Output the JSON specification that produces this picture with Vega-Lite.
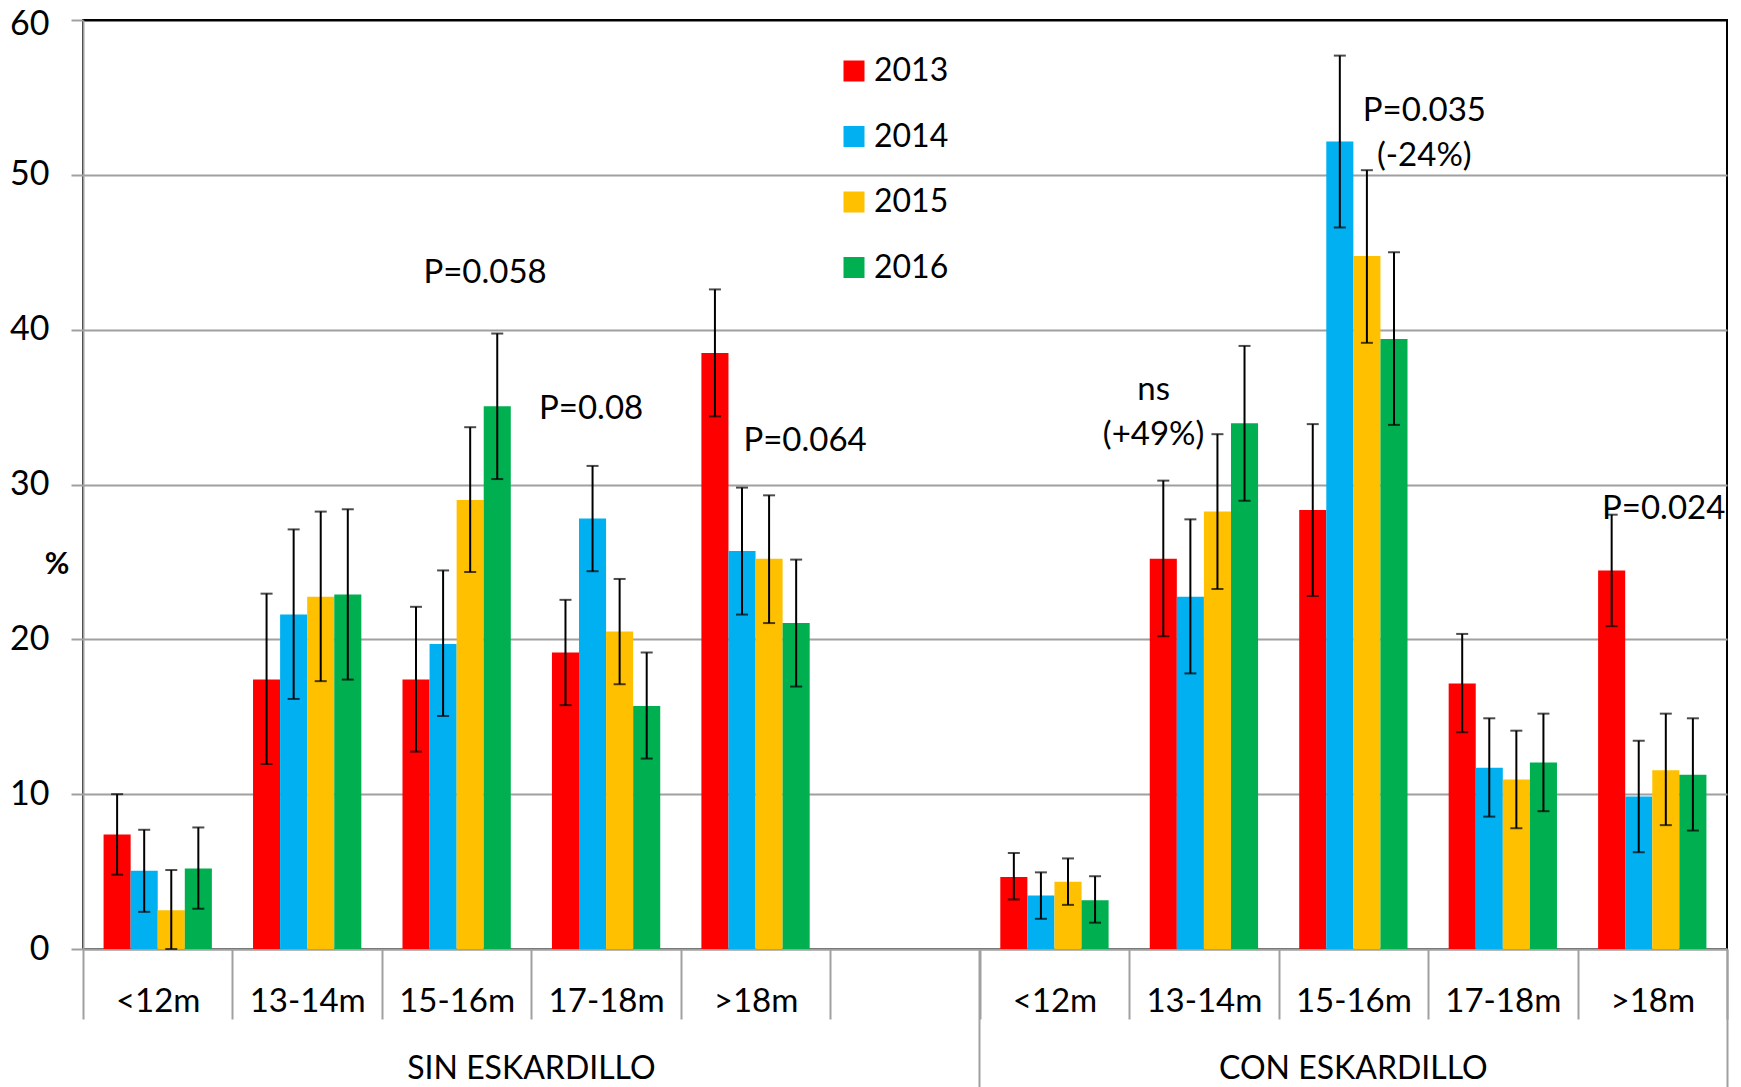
{
  "$schema": "https://vega.github.io/schema/vega-lite/v6.json",
  "autosize": "none",
  "padding": {"left": 83, "top": 20, "right": 14, "bottom": 138},
  "width": 1644,
  "height": 929,
  "background": "#ffffff",
  "config": {
    "font": "Lato",
    "view": {"stroke": "#000000", "strokeWidth": 2}
  },
  "datasets": {
    "bars": [
      {"cat": "SIN|<12m", "year": "2013", "value": 7.4, "lo": 4.8, "hi": 10.0},
      {"cat": "SIN|<12m", "year": "2014", "value": 5.05, "lo": 2.4, "hi": 7.7},
      {"cat": "SIN|<12m", "year": "2015", "value": 2.5, "lo": 0, "hi": 5.1},
      {"cat": "SIN|<12m", "year": "2016", "value": 5.2, "lo": 2.6, "hi": 7.85},
      {"cat": "SIN|13-14m", "year": "2013", "value": 17.4, "lo": 11.95, "hi": 22.95},
      {"cat": "SIN|13-14m", "year": "2014", "value": 21.6, "lo": 16.15, "hi": 27.1},
      {"cat": "SIN|13-14m", "year": "2015", "value": 22.75, "lo": 17.3, "hi": 28.25},
      {"cat": "SIN|13-14m", "year": "2016", "value": 22.9, "lo": 17.4, "hi": 28.4},
      {"cat": "SIN|15-16m", "year": "2013", "value": 17.4, "lo": 12.75, "hi": 22.1},
      {"cat": "SIN|15-16m", "year": "2014", "value": 19.7, "lo": 15.05, "hi": 24.45},
      {"cat": "SIN|15-16m", "year": "2015", "value": 29.0, "lo": 24.35, "hi": 33.7},
      {"cat": "SIN|15-16m", "year": "2016", "value": 35.05, "lo": 30.35, "hi": 39.75},
      {"cat": "SIN|17-18m", "year": "2013", "value": 19.15, "lo": 15.75, "hi": 22.55},
      {"cat": "SIN|17-18m", "year": "2014", "value": 27.8, "lo": 24.4, "hi": 31.2},
      {"cat": "SIN|17-18m", "year": "2015", "value": 20.5, "lo": 17.1, "hi": 23.9},
      {"cat": "SIN|17-18m", "year": "2016", "value": 15.7, "lo": 12.3, "hi": 19.15},
      {"cat": "SIN|>18m", "year": "2013", "value": 38.5, "lo": 34.4, "hi": 42.6},
      {"cat": "SIN|>18m", "year": "2014", "value": 25.7, "lo": 21.6, "hi": 29.8},
      {"cat": "SIN|>18m", "year": "2015", "value": 25.2, "lo": 21.05, "hi": 29.3},
      {"cat": "SIN|>18m", "year": "2016", "value": 21.05, "lo": 16.95, "hi": 25.15},
      {"cat": "CON|<12m", "year": "2013", "value": 4.65, "lo": 3.2, "hi": 6.2},
      {"cat": "CON|<12m", "year": "2014", "value": 3.45, "lo": 1.95, "hi": 4.95},
      {"cat": "CON|<12m", "year": "2015", "value": 4.35, "lo": 2.85, "hi": 5.85},
      {"cat": "CON|<12m", "year": "2016", "value": 3.15, "lo": 1.7, "hi": 4.7},
      {"cat": "CON|13-14m", "year": "2013", "value": 25.2, "lo": 20.2, "hi": 30.25},
      {"cat": "CON|13-14m", "year": "2014", "value": 22.75, "lo": 17.8, "hi": 27.75},
      {"cat": "CON|13-14m", "year": "2015", "value": 28.25, "lo": 23.25, "hi": 33.25},
      {"cat": "CON|13-14m", "year": "2016", "value": 33.95, "lo": 28.95, "hi": 38.95},
      {"cat": "CON|15-16m", "year": "2013", "value": 28.35, "lo": 22.8, "hi": 33.9},
      {"cat": "CON|15-16m", "year": "2014", "value": 52.15, "lo": 46.6, "hi": 57.7},
      {"cat": "CON|15-16m", "year": "2015", "value": 44.75, "lo": 39.15, "hi": 50.3},
      {"cat": "CON|15-16m", "year": "2016", "value": 39.4, "lo": 33.85, "hi": 45.0},
      {"cat": "CON|17-18m", "year": "2013", "value": 17.15, "lo": 14.0, "hi": 20.35},
      {"cat": "CON|17-18m", "year": "2014", "value": 11.7, "lo": 8.55, "hi": 14.9},
      {"cat": "CON|17-18m", "year": "2015", "value": 10.95, "lo": 7.8, "hi": 14.1},
      {"cat": "CON|17-18m", "year": "2016", "value": 12.05, "lo": 8.9, "hi": 15.2},
      {"cat": "CON|>18m", "year": "2013", "value": 24.45, "lo": 20.85, "hi": 28.05},
      {"cat": "CON|>18m", "year": "2014", "value": 9.85, "lo": 6.25, "hi": 13.45},
      {"cat": "CON|>18m", "year": "2015", "value": 11.55, "lo": 8.0, "hi": 15.2},
      {"cat": "CON|>18m", "year": "2016", "value": 11.25, "lo": 7.65, "hi": 14.9}
    ],
    "notes": [
      {"cat": "SIN|15-16m", "y": 43.0, "label": "P=0.058"},
      {"cat": "SIN|17-18m", "y": 34.2, "label": "P=0.08"},
      {"cat": "SIN|>18m", "y": 32.15, "label": "P=0.064"},
      {"cat": "CON|13-14m", "y": 35.45, "label": ["ns", "(+49%)"]},
      {"cat": "CON|15-16m", "y": 53.5, "label": ["P=0.035", "(-24%)"]},
      {"cat": "CON|>18m", "y": 27.8, "label": "P=0.024"}
    ]
  },
  "resolve": {"axis": {"x": "independent"}},
  "layer": [
    {
      "data": {"name": "bars"},
      "mark": {"type": "bar"},
      "encoding": {
        "x": {
          "field": "cat", "type": "nominal", "sort": null,
          "scale": {"domain": ["SIN|<12m", "SIN|13-14m", "SIN|15-16m", "SIN|17-18m", "SIN|>18m", "SIN| ", "CON|<12m", "CON|13-14m", "CON|15-16m", "CON|17-18m", "CON|>18m"], "paddingInner": 0, "paddingOuter": 0},
          "axis": {
            "orient": "bottom", "title": null,
            "labelExpr": "split(datum.label, '|')[1]",
            "tickBand": "extent", "tickSize": 70, "tickColor": "#a0a0a0", "tickWidth": 2,
            "domainColor": "#a0a0a0", "domainWidth": 2,
            "labelFont": "Lato", "labelFontSize": 33, "labelColor": "#000000",
            "labelPadding": -34, "labelOverlap": false, "labelAngle": 0, "grid": false
          }
        },
        "xOffset": {"field": "year", "type": "nominal", "scale": {"paddingInner": 0, "paddingOuter": 0.76}},
        "y": {
          "field": "value", "type": "quantitative",
          "scale": {"domain": [0, 60], "nice": false, "zero": true},
          "axis": {
            "values": [0, 10, 20, 30, 40, 50, 60],
            "title": "%", "titleFont": "Lato", "titleFontSize": 30, "titleFontWeight": "bold",
            "titleAngle": 0, "titleX": -26.5, "titleY": 544, "titleAlign": "center", "titleBaseline": "middle", "titleColor": "#000000",
            "labelFont": "Lato", "labelFontSize": 34, "labelColor": "#000000", "labelPadding": 22,
            "labelOffset": {"condition": {"test": "datum.value === 60", "value": 4}, "value": 0},
            "tickSize": 12, "tickColor": "#a0a0a0", "tickWidth": 2,
            "domainColor": "#a0a0a0", "domainWidth": 2,
            "grid": true, "gridWidth": 2,
            "gridColor": {"condition": {"test": "datum.value === 60", "value": "#000000"}, "value": "#a0a0a0"}
          }
        },
        "color": {
          "field": "year", "type": "nominal",
          "scale": {"domain": ["2013", "2014", "2015", "2016"], "range": ["#ff0000", "#00b0f0", "#ffc000", "#00b050"]},
          "legend": {
            "orient": "none", "legendX": 755, "legendY": 35, "title": null, "padding": 0,
            "symbolType": "square", "symbolSize": 441, "symbolStrokeWidth": 0, "symbolOpacity": 1,
            "labelFont": "Lato", "labelFontSize": 32, "labelColor": "#000000", "labelOffset": 4,
            "rowPadding": 33.5
          }
        }
      }
    },
    {
      "data": {"name": "bars"},
      "mark": {"type": "rule", "color": "#000000", "strokeWidth": 2},
      "encoding": {
        "x": {
          "field": "cat", "type": "nominal", "sort": null,
          "scale": {"domain": ["SIN|<12m", "SIN|13-14m", "SIN|15-16m", "SIN|17-18m", "SIN|>18m", "SIN| ", "CON|<12m", "CON|13-14m", "CON|15-16m", "CON|17-18m", "CON|>18m"], "paddingInner": 0, "paddingOuter": 0},
          "axis": {
            "orient": "bottom", "title": null,
            "values": ["SIN|<12m", "CON|<12m"],
            "bandPosition": 0, "tickSize": 138, "tickColor": "#a0a0a0", "tickWidth": 2,
            "labels": false, "domain": false, "grid": false
          }
        },
        "xOffset": {"field": "year", "type": "nominal", "scale": {"paddingInner": 0, "paddingOuter": 0.76}},
        "y": {"field": "lo", "type": "quantitative", "scale": {"domain": [0, 60], "nice": false}},
        "y2": {"field": "hi"}
      }
    },
    {
      "data": {"name": "bars"},
      "mark": {"type": "tick", "orient": "horizontal", "color": "#000000", "size": 12, "thickness": 2},
      "encoding": {
        "x": {
          "field": "cat", "type": "nominal", "sort": null,
          "scale": {"domain": ["SIN|<12m", "SIN|13-14m", "SIN|15-16m", "SIN|17-18m", "SIN|>18m", "SIN| ", "CON|<12m", "CON|13-14m", "CON|15-16m", "CON|17-18m", "CON|>18m"], "paddingInner": 0, "paddingOuter": 0},
          "axis": {
            "orient": "bottom", "title": null,
            "values": ["SIN|17-18m"],
            "labelExpr": "'SIN ESKARDILLO'",
            "labelOffset": -74.7, "labelPadding": 104,
            "ticks": false, "tickSize": 0, "domain": false, "grid": false,
            "labelFont": "Lato", "labelFontSize": 32, "labelColor": "#000000", "labelLimit": 0, "labelAngle": 0
          }
        },
        "xOffset": {"field": "year", "type": "nominal", "scale": {"paddingInner": 0, "paddingOuter": 0.76}},
        "y": {"field": "lo", "type": "quantitative", "scale": {"domain": [0, 60], "nice": false}}
      }
    },
    {
      "data": {"name": "bars"},
      "mark": {"type": "tick", "orient": "horizontal", "color": "#000000", "size": 12, "thickness": 2},
      "encoding": {
        "x": {
          "field": "cat", "type": "nominal", "sort": null,
          "scale": {"domain": ["SIN|<12m", "SIN|13-14m", "SIN|15-16m", "SIN|17-18m", "SIN|>18m", "SIN| ", "CON|<12m", "CON|13-14m", "CON|15-16m", "CON|17-18m", "CON|>18m"], "paddingInner": 0, "paddingOuter": 0},
          "axis": {
            "orient": "bottom", "title": null,
            "values": ["CON|15-16m"],
            "labelExpr": "'CON ESKARDILLO'",
            "labelPadding": 104,
            "ticks": false, "tickSize": 0, "domain": false, "grid": false,
            "labelFont": "Lato", "labelFontSize": 32, "labelColor": "#000000", "labelLimit": 0, "labelAngle": 0
          }
        },
        "xOffset": {"field": "year", "type": "nominal", "scale": {"paddingInner": 0, "paddingOuter": 0.76}},
        "y": {"field": "hi", "type": "quantitative", "scale": {"domain": [0, 60], "nice": false}}
      }
    },
    {
      "data": {"name": "notes"},
      "transform": [{"filter": "datum.cat === 'SIN|15-16m'"}],
      "mark": {"type": "text", "font": "Lato", "fontSize": 33, "color": "#000000", "align": "center", "baseline": "alphabetic", "dx": 28.4, "lineHeight": 45},
      "encoding": {
        "x": {"field": "cat", "type": "nominal", "sort": null, "scale": {"domain": ["SIN|<12m", "SIN|13-14m", "SIN|15-16m", "SIN|17-18m", "SIN|>18m", "SIN| ", "CON|<12m", "CON|13-14m", "CON|15-16m", "CON|17-18m", "CON|>18m"], "paddingInner": 0, "paddingOuter": 0}, "axis": null},
        "y": {"field": "y", "type": "quantitative", "scale": {"domain": [0, 60], "nice": false}},
        "text": {"field": "label"}
      }
    },
    {
      "data": {"name": "notes"},
      "transform": [{"filter": "datum.cat === 'SIN|17-18m'"}],
      "mark": {"type": "text", "font": "Lato", "fontSize": 33, "color": "#000000", "align": "center", "baseline": "alphabetic", "dx": -15, "lineHeight": 45},
      "encoding": {
        "x": {"field": "cat", "type": "nominal", "sort": null, "scale": {"domain": ["SIN|<12m", "SIN|13-14m", "SIN|15-16m", "SIN|17-18m", "SIN|>18m", "SIN| ", "CON|<12m", "CON|13-14m", "CON|15-16m", "CON|17-18m", "CON|>18m"], "paddingInner": 0, "paddingOuter": 0}, "axis": null},
        "y": {"field": "y", "type": "quantitative", "scale": {"domain": [0, 60], "nice": false}},
        "text": {"field": "label"}
      }
    },
    {
      "data": {"name": "notes"},
      "transform": [{"filter": "datum.cat === 'SIN|>18m'"}],
      "mark": {"type": "text", "font": "Lato", "fontSize": 33, "color": "#000000", "align": "center", "baseline": "alphabetic", "dx": 49.5, "lineHeight": 45},
      "encoding": {
        "x": {"field": "cat", "type": "nominal", "sort": null, "scale": {"domain": ["SIN|<12m", "SIN|13-14m", "SIN|15-16m", "SIN|17-18m", "SIN|>18m", "SIN| ", "CON|<12m", "CON|13-14m", "CON|15-16m", "CON|17-18m", "CON|>18m"], "paddingInner": 0, "paddingOuter": 0}, "axis": null},
        "y": {"field": "y", "type": "quantitative", "scale": {"domain": [0, 60], "nice": false}},
        "text": {"field": "label"}
      }
    },
    {
      "data": {"name": "notes"},
      "transform": [{"filter": "datum.cat === 'CON|13-14m'"}],
      "mark": {"type": "text", "font": "Lato", "fontSize": 33, "color": "#000000", "align": "center", "baseline": "alphabetic", "dx": -50.3, "lineHeight": 45},
      "encoding": {
        "x": {"field": "cat", "type": "nominal", "sort": null, "scale": {"domain": ["SIN|<12m", "SIN|13-14m", "SIN|15-16m", "SIN|17-18m", "SIN|>18m", "SIN| ", "CON|<12m", "CON|13-14m", "CON|15-16m", "CON|17-18m", "CON|>18m"], "paddingInner": 0, "paddingOuter": 0}, "axis": null},
        "y": {"field": "y", "type": "quantitative", "scale": {"domain": [0, 60], "nice": false}},
        "text": {"field": "label"}
      }
    },
    {
      "data": {"name": "notes"},
      "transform": [{"filter": "datum.cat === 'CON|15-16m'"}],
      "mark": {"type": "text", "font": "Lato", "fontSize": 33, "color": "#000000", "align": "center", "baseline": "alphabetic", "dx": 71, "lineHeight": 45},
      "encoding": {
        "x": {"field": "cat", "type": "nominal", "sort": null, "scale": {"domain": ["SIN|<12m", "SIN|13-14m", "SIN|15-16m", "SIN|17-18m", "SIN|>18m", "SIN| ", "CON|<12m", "CON|13-14m", "CON|15-16m", "CON|17-18m", "CON|>18m"], "paddingInner": 0, "paddingOuter": 0}, "axis": null},
        "y": {"field": "y", "type": "quantitative", "scale": {"domain": [0, 60], "nice": false}},
        "text": {"field": "label"}
      }
    },
    {
      "data": {"name": "notes"},
      "transform": [{"filter": "datum.cat === 'CON|>18m'"}],
      "mark": {"type": "text", "font": "Lato", "fontSize": 33, "color": "#000000", "align": "center", "baseline": "alphabetic", "dx": 11.4, "lineHeight": 45},
      "encoding": {
        "x": {
          "field": "cat", "type": "nominal", "sort": null,
          "scale": {"domain": ["SIN|<12m", "SIN|13-14m", "SIN|15-16m", "SIN|17-18m", "SIN|>18m", "SIN| ", "CON|<12m", "CON|13-14m", "CON|15-16m", "CON|17-18m", "CON|>18m"], "paddingInner": 0, "paddingOuter": 0},
          "axis": {
            "orient": "bottom", "title": null,
            "values": ["CON|>18m"],
            "bandPosition": 1, "tickSize": 138, "tickColor": "#a0a0a0", "tickWidth": 2,
            "labels": false, "domain": false, "grid": false
          }
        },
        "y": {"field": "y", "type": "quantitative", "scale": {"domain": [0, 60], "nice": false}},
        "text": {"field": "label"}
      }
    }
  ]
}
